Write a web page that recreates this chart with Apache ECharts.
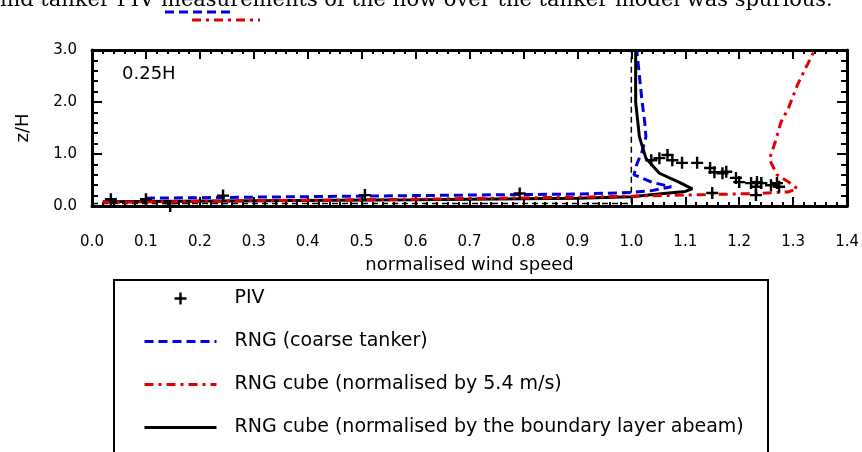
<!DOCTYPE html>
<html>
<head>
<meta charset="utf-8">
<script src="https://cdn.jsdelivr.net/npm/echarts@6/dist/echarts.min.js"></script>
<style>html,body{margin:0;padding:0;background:#fff;}#main{width:862px;height:452px;}</style>
</head>
<body>
<div id="main"></div>
<script>
// ---- data ----
const xTicks = [0.0,0.1,0.2,0.3,0.4,0.5,0.6,0.7,0.8,0.9,1.0,1.1,1.2,1.3,1.4];
const yTicks = [0.0,1.0,2.0,3.0];
const seriesNames = ['PIV','RNG (coarse tanker)','RNG cube (normalised by 5.4 m/s)','RNG cube (normalised by the boundary layer abeam)'];
const pivData = [[0.035,0.13],[0.10,0.13],[0.145,0.0],[0.243,0.2],[0.506,0.21],[0.793,0.24],
  [1.037,0.88],[1.052,0.92],[1.067,0.98],[1.076,0.88],[1.094,0.83],[1.122,0.83],[1.146,0.73],[1.154,0.65],
  [1.169,0.63],[1.176,0.66],[1.194,0.54],[1.2,0.46],[1.222,0.44],[1.233,0.46],[1.241,0.44],[1.231,0.37],
  [1.259,0.4],[1.27,0.44],[1.274,0.37],[1.15,0.25],[1.231,0.21]];
const coarseData = [[0.1,0.15],[0.3,0.17],[0.6,0.2],[0.9,0.23],[1.0,0.26],[1.04,0.3],[1.074,0.37],[1.04,0.45],
  [1.005,0.6],[1.01,0.8],[1.02,1.05],[1.027,1.33],[1.025,1.6],[1.02,2.0],[1.015,2.5],[1.01,3.0]];
const cube54Data = [[0.02,0.07],[0.3,0.1],[0.6,0.13],[0.9,0.17],[1.1,0.21],[1.23,0.24],[1.29,0.27],[1.308,0.33],
  [1.293,0.45],[1.27,0.6],[1.256,0.9],[1.268,1.27],[1.277,1.6],[1.292,1.9],[1.308,2.33],[1.324,2.67],[1.34,3.0]];
const cubeBLData = [[0.02,0.08],[0.3,0.1],[0.6,0.12],[0.9,0.15],[1.0,0.18],[1.06,0.24],[1.1,0.28],[1.113,0.33],
  [1.09,0.45],[1.052,0.63],[1.027,0.92],[1.015,1.33],[1.008,2.0],[1.008,3.0]];
const uniformData = [[0.0,0.05],[1.0,0.05],[1.0,3.0]];

const chart = echarts.init(document.getElementById('main'), null, {renderer:'canvas'});
const F = 'DejaVu Sans';
const plus = 'path://M4,0H6V4H10V6H6V10H4V6H0V4H4Z';
function mkAxis(extra, major, minor){
  return Object.assign({
    type:'value',
    axisLine:{show:true,onZero:false,lineStyle:{color:'#000',width:3}},
    splitLine:{show:false},
    axisTick:{show:true,inside:true,length:major,lineStyle:{width:2,color:'#000'}},
    minorTick:{show:true,splitNumber:5,length:minor,lineStyle:{width:2,color:'#000'}}
  }, extra);
}
chart.setOption({
  animation:false,
  backgroundColor:'#fff',
  grid:{left:92,right:14,top:50,bottom:246,containLabel:false},
  xAxis:[
    mkAxis({min:0,max:1.4,interval:0.1,position:'bottom',
      name:'normalised wind speed',nameLocation:'middle',nameGap:50,
      nameTextStyle:{fontFamily:F,fontSize:18,color:'#000'},
      axisLabel:{margin:29,fontFamily:F,fontSize:15,color:'#000',formatter:v=>v.toFixed(1)}},9,4),
    mkAxis({min:0,max:1.4,interval:0.1,position:'top',axisLabel:{show:false}},9,4)
  ],
  yAxis:[
    mkAxis({min:0,max:3,interval:1,position:'left',
      name:'z/H',nameLocation:'middle',nameGap:60,nameRotate:90,
      nameTextStyle:{fontFamily:F,fontSize:18,color:'#000'},
      axisLabel:{margin:15,fontFamily:F,fontSize:15,color:'#000',formatter:v=>v.toFixed(1)}},10,6),
    mkAxis({min:0,max:3,interval:1,position:'right',axisLabel:{show:false}},10,6)
  ],
  legend:{
    orient:'vertical', left:143, top:289, padding:0, itemWidth:72, itemHeight:12, itemGap:24,
    data:[
      {name:seriesNames[0]},
      {name:seriesNames[1],itemStyle:{opacity:0},lineStyle:{width:3}},
      {name:seriesNames[2],itemStyle:{opacity:0},lineStyle:{width:3}},
      {name:seriesNames[3],itemStyle:{opacity:0},lineStyle:{width:3}}
    ],
    textStyle:{fontFamily:F,fontSize:19,color:'#000',padding:[0,0,0,13]}
  },
  graphic:[
    {type:'text',left:0,top:-10,style:{text:'ind tanker PIV measurements of the flow over the tanker model was spurious.',font:'21px "DejaVu Serif"',fill:'#000'}},
    {type:'line',shape:{x1:165,y1:12,x2:232,y2:12},style:{stroke:'#0000dd',lineWidth:3,lineDash:[9,5]}},
    {type:'line',shape:{x1:192,y1:20,x2:260,y2:20},style:{stroke:'#e00000',lineWidth:3,lineDash:[9,5,3,5]}},
    {type:'rect',shape:{x:114,y:280,width:654,height:190},style:{fill:'none',stroke:'#000',lineWidth:2}},
    {type:'text',left:122,top:65,style:{text:'0.25H',font:'18px "DejaVu Sans"',fill:'#000'}}
  ],
  series:[
    {name:'ref',type:'line',data:uniformData,symbol:'none',lineStyle:{color:'#000',width:1.5,type:[6,4]},z:1},
    {name:seriesNames[1],type:'line',data:coarseData,symbol:'none',color:'#0000dd',lineStyle:{color:'#0000dd',width:3,type:[9,5]},z:2},
    {name:seriesNames[3],type:'line',data:cubeBLData,symbol:'none',color:'#000',lineStyle:{color:'#000',width:3},z:3},
    {name:seriesNames[2],type:'line',data:cube54Data,symbol:'none',color:'#e00000',lineStyle:{color:'#e00000',width:3,type:[9,5,3,5]},z:4},
    {name:seriesNames[0],type:'scatter',data:pivData,symbol:plus,symbolSize:12,clip:false,itemStyle:{color:'#000',opacity:1},z:5}
  ]
});
</script>
</body>
</html>
